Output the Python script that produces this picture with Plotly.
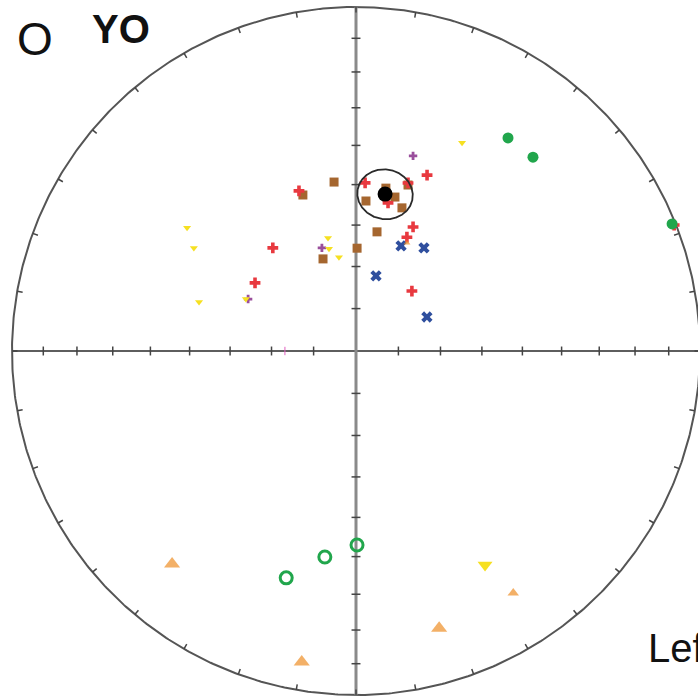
import numpy as np
import plotly.graph_objects as go

# ---------------- data (declination, inclination in degrees) ----------------
red_dec = [340.4, 3.1, 12.2, 17.2, 22.0, 24.7, 24.1, 43.0, 321.1, 304.0, 68.4]
red_inc = [49.1, 49.5, 53.7, 47.6, 44.1, 57.4, 60.3, 70.6, 58.4, 61.0, 0.6]

brown_dec = [341.2, 352.6, 3.8, 10.4, 14.2, 17.8, 17.4, 10.0, 0.6, 340.3]
brown_inc = [50.4, 49.0, 54.0, 50.2, 51.9, 54.0, 48.1, 61.2, 65.6, 66.8]

blue_dec = [23.2, 33.4, 14.9, 64.4]
blue_inc = [62.8, 60.6, 71.6, 71.4]

purple_dec = [16.3, 341.7, 295.7]
purple_inc = [40.6, 64.2, 61.5]

yellow_dec = [306.1, 302.4, 287.3, 295.3, 346.1, 345.2, 349.7, 27.0]
yellow_inc = [39.1, 43.5, 50.5, 61.0, 62.3, 64.9, 67.4, 32.6]

green_dec = [35.5, 42.4, 68.1]
green_inc = [24.9, 24.7, 1.1]

orange_dec = [220.8, 189.9, 163.3, 147.0, 25.3]
orange_inc = [19.3, 9.1, 17.0, 17.2, 61.6]
orange_size = [14, 14, 14, 10, 6]

yellow_big_dec = [148.9]
yellow_big_inc = [28.2]

green_open_dec = [197.1, 188.6, 179.7]
green_open_inc = [-31.6, -39.3, -43.0]

pink_dec = [270.0]
pink_inc = [73.2]

mean_dec, mean_inc, a95 = 10.5, 51.7, 6.2

tick_plunges = [10, 20, 30, 40, 50, 60, 70, 80]
rim_azimuths = list(range(0, 360, 10))


def proj(dec, inc):
    dec = np.radians(np.asarray(dec, float))
    inc = np.asarray(inc, float)
    r = np.sqrt(2) * np.sin(np.radians(90 - np.abs(inc)) / 2)
    return r * np.sin(dec), r * np.cos(dec)


fig = go.Figure()

# primitive circle
t = np.linspace(0, 2 * np.pi, 721)
fig.add_trace(go.Scatter(x=np.cos(t), y=np.sin(t), mode="lines",
                         line=dict(color="#555555", width=2), hoverinfo="skip"))

# axes through centre
fig.add_trace(go.Scatter(x=[-1, 1], y=[0, 0], mode="lines",
                         line=dict(color="#5e5e5e", width=2), hoverinfo="skip"))
fig.add_trace(go.Scatter(x=[0, 0], y=[-1, 1], mode="lines",
                         line=dict(color="#8a8a8a", width=3), hoverinfo="skip"))

# ticks on axes
tx, ty = [], []
h = 0.013
for p in tick_plunges:
    r = np.sqrt(2) * np.sin(np.radians(90 - p) / 2)
    for s in (-1, 1):
        tx += [s * r, s * r, None]
        ty += [-h, h, None]
        tx += [-h, h, None]
        ty += [s * r, s * r, None]
# ticks on rim
for a in rim_azimuths:
    ar = np.radians(a)
    tx += [np.sin(ar), 0.984 * np.sin(ar), None]
    ty += [np.cos(ar), 0.984 * np.cos(ar), None]
fig.add_trace(go.Scatter(x=tx, y=ty, mode="lines",
                         line=dict(color="#444444", width=1.5), hoverinfo="skip"))


def add_pts(dec, inc, symbol, color, size, lw=0):
    x, y = proj(dec, inc)
    m = dict(symbol=symbol, color=color, size=size)
    if lw:
        m["line"] = dict(color=color, width=lw)
    else:
        m["line"] = dict(width=0)
    fig.add_trace(go.Scatter(x=x, y=y, mode="markers", marker=m))


add_pts(brown_dec, brown_inc, "square", "#a5662f", 9)
add_pts(red_dec, red_inc, "cross", "#e8393f", 9)
add_pts(blue_dec, blue_inc, "x", "#2f4f9e", 10)
add_pts(purple_dec, purple_inc, "cross", "#9a4f9c", 7)
add_pts(yellow_dec, yellow_inc, "triangle-down", "#f6e021", 7)
add_pts(green_dec, green_inc, "circle", "#21a64c", 11)
add_pts(orange_dec, orange_inc, "triangle-up", "#ee8f26", orange_size)
add_pts(yellow_big_dec, yellow_big_inc, "triangle-down", "#f6e021", 13)
add_pts(green_open_dec, green_open_inc, "circle-open", "#21a64c", 12, lw=3)
add_pts(pink_dec, pink_inc, "line-ns", "#e060c0", 6, lw=1)

# mean direction and its alpha95 cone
D, I = np.radians(mean_dec), np.radians(mean_inc)
v = np.array([np.cos(I) * np.cos(D), np.cos(I) * np.sin(D), np.sin(I)])
u1 = np.cross(v, [0, 0, 1.0]); u1 /= np.linalg.norm(u1)
u2 = np.cross(v, u1)
a = np.radians(a95)
pts = np.array([np.cos(a) * v + np.sin(a) * (np.cos(s) * u1 + np.sin(s) * u2) for s in t])
cdec = np.degrees(np.arctan2(pts[:, 1], pts[:, 0]))
cinc = np.degrees(np.arcsin(np.clip(pts[:, 2], -1, 1)))
cx, cy = proj(cdec, cinc)
fig.add_trace(go.Scatter(x=cx, y=cy, mode="lines", line=dict(color="#2a2a2a", width=1.8),
                         hoverinfo="skip"))
add_pts([mean_dec], [mean_inc], "circle", "#000000", 15)

R = 344.0
cxp, cyp = 356.0, 351.0
W, H = 698, 697
fig.update_layout(
    width=W, height=H, margin=dict(l=0, r=0, t=0, b=0),
    paper_bgcolor="white", plot_bgcolor="white", showlegend=False,
    xaxis=dict(range=[-cxp / R, (W - cxp) / R], visible=False, fixedrange=True),
    yaxis=dict(range=[(cyp - H) / R, cyp / R], visible=False, fixedrange=True),
    annotations=[
        dict(text="O", x=35 / W, y=(H - 39) / H, xref="paper", yref="paper", showarrow=False,
             font=dict(family="Liberation Sans", size=46, color="#111111"),
             xanchor="center", yanchor="middle"),
        dict(text="<b>YO</b>", x=121 / W, y=(H - 29) / H, xref="paper", yref="paper",
             showarrow=False,
             font=dict(family="Liberation Sans", size=40, color="#111111"),
             xanchor="center", yanchor="middle"),
        dict(text="Left", x=646 / W, y=(H - 648) / H, xref="paper", yref="paper",
             showarrow=False,
             font=dict(family="Liberation Sans", size=40, color="#111111"),
             xanchor="left", yanchor="middle"),
    ],
)

fig.write_html("out.html")
